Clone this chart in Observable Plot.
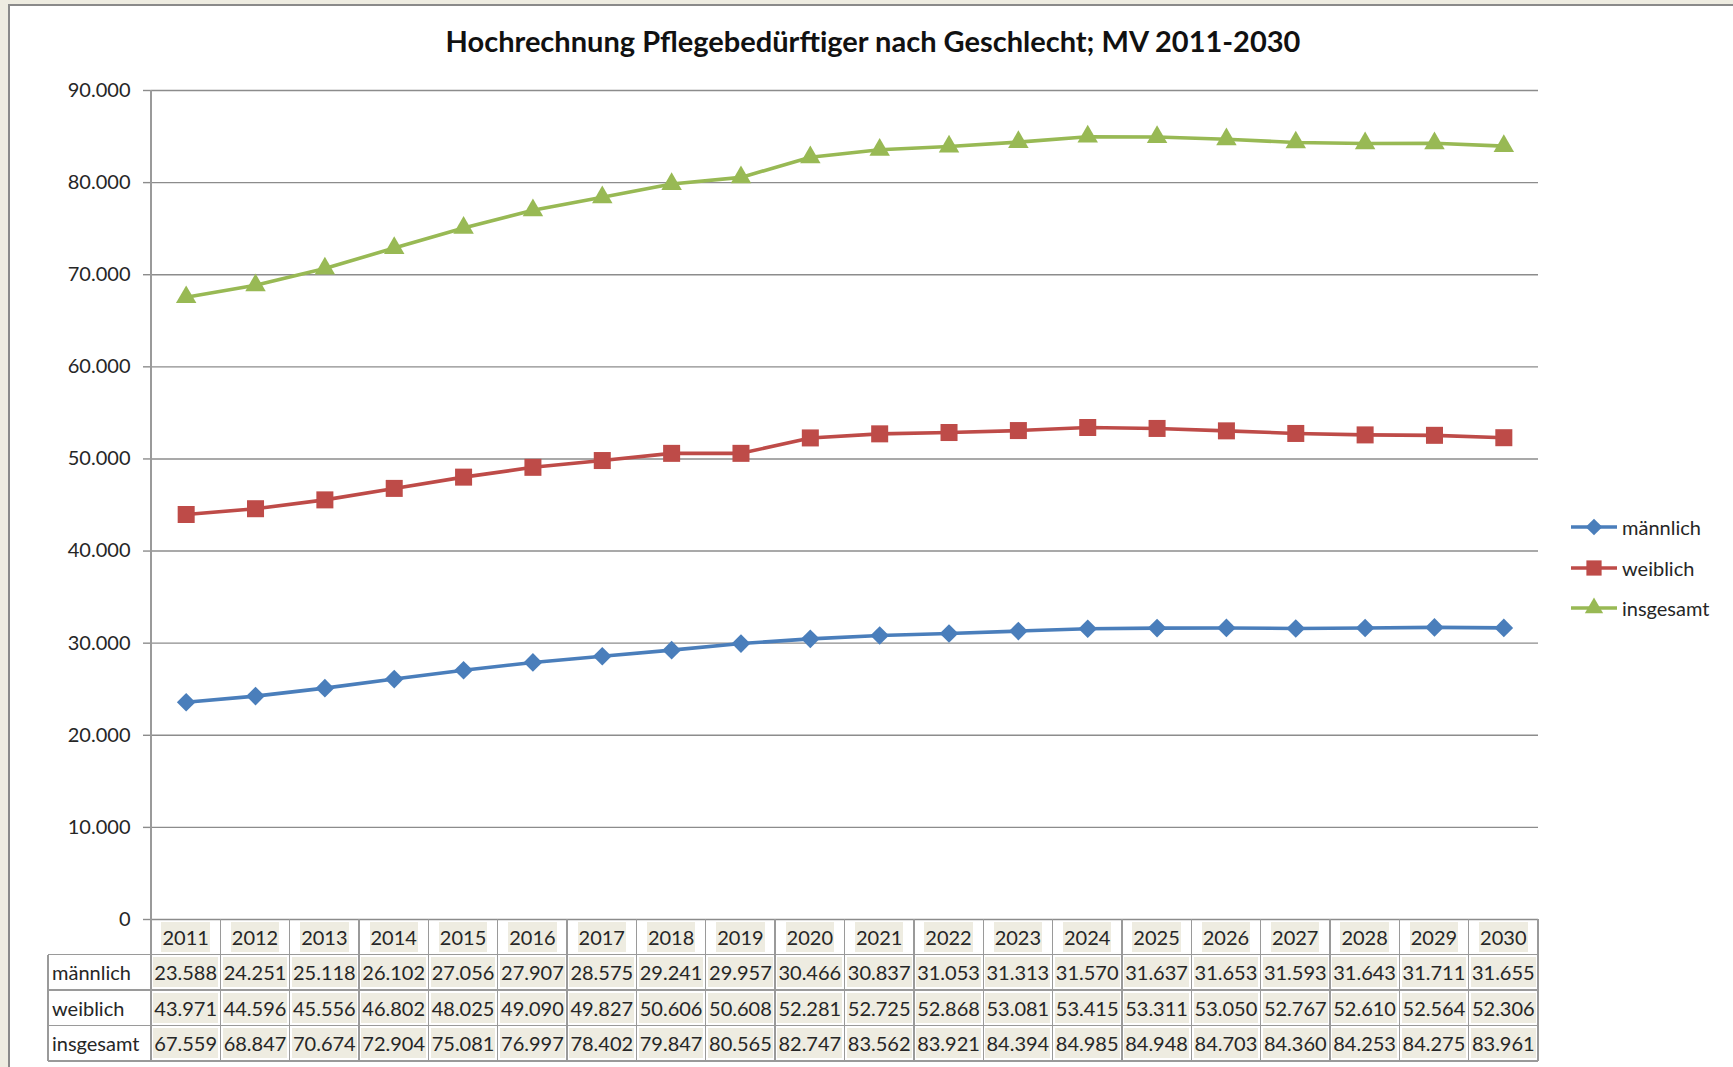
<!DOCTYPE html>
<html><head><meta charset="utf-8">
<script src="https://cdn.jsdelivr.net/npm/d3@7"></script>
<script src="https://cdn.jsdelivr.net/npm/@observablehq/plot@0.6"></script>
<style>
html,body{margin:0;padding:0;width:1733px;height:1067px;overflow:hidden;background:#EEECE1;font-family:Lato,"Liberation Sans",sans-serif;color:#262626;}
#panel{position:absolute;left:8px;top:4px;width:1800px;height:1100px;background:#fff;border-left:2px solid #8a8a8a;border-top:2px solid #8a8a8a;}
#title{position:absolute;left:0;width:1746px;top:23px;text-align:center;font-weight:bold;font-size:29px;color:#111;white-space:nowrap;}
#chart{position:absolute;left:0;top:0;}
.ln{position:absolute;background:#9a9a9a;}
.cell{position:absolute;display:flex;align-items:center;justify-content:center;font-size:20px;}
.cell span{background:#EEECE1;line-height:30px;padding:0 1px;}
.lab{position:absolute;display:flex;align-items:center;font-size:20px;padding-left:4px;box-sizing:border-box;}
.leg{position:absolute;display:flex;align-items:center;font-size:20px;}
</style></head>
<body>
<div id="panel"></div>
<div id="title"></div>
<div id="chart"></div>
<div id="table"></div>
<div id="legend"></div>
<script>
const titleText = "Hochrechnung Pflegebedürftiger nach Geschlecht; MV 2011-2030";
const years = [2011,2012,2013,2014,2015,2016,2017,2018,2019,2020,2021,2022,2023,2024,2025,2026,2027,2028,2029,2030];
const maennlich = [23588,24251,25118,26102,27056,27907,28575,29241,29957,30466,30837,31053,31313,31570,31637,31653,31593,31643,31711,31655];
const weiblich  = [43971,44596,45556,46802,48025,49090,49827,50606,50608,52281,52725,52868,53081,53415,53311,53050,52767,52610,52564,52306];
const insgesamt = [67559,68847,70674,72904,75081,76997,78402,79847,80565,82747,83562,83921,84394,84985,84948,84703,84360,84253,84275,83961];
const seriesNames = ["männlich","weiblich","insgesamt"];
const seriesValues = [maennlich, weiblich, insgesamt];
const seriesColors = ["#4A7EBB","#BE4B48","#98B954"];
const seriesSymbols = ["diamond2","square","triangle"];
const seriesR = [8.4, 9.6, 7.6];
const yTicks = [0,10000,20000,30000,40000,50000,60000,70000,80000,90000];

document.getElementById("title").textContent = titleText;
const de = d3.formatLocale({decimal:",", thousands:".", grouping:[3], currency:["","€"]});
const fmt = de.format(",d");

const rows = seriesNames.map((name, s) => years.map((yr, i) => ({year: yr, value: seriesValues[s][i], series: name})));

const marks = [
  Plot.gridY({ticks: yTicks, stroke: "#8c8c8c", strokeOpacity: 1, strokeWidth: 1.4}),
  Plot.axisY({ticks: yTicks, tickSize: 8, tickPadding: 13, tickFormat: fmt, stroke: "#8c8c8c", strokeWidth: 1.4, fill: "#262626", fontSize: 20, label: null})
];
seriesNames.forEach((name, s) => {
  marks.push(Plot.line(rows[s], {x: "year", y: "value", stroke: seriesColors[s], strokeWidth: 3.6}));
  marks.push(Plot.dot(rows[s], {x: "year", y: "value", symbol: seriesSymbols[s], r: seriesR[s], fill: seriesColors[s], stroke: null}));
});

const chart = Plot.plot({
  width: 1733, height: 940,
  marginLeft: 151, marginRight: 195, marginTop: 90, marginBottom: 21,
  style: {fontFamily: "Lato, 'Liberation Sans', sans-serif", background: "transparent", color: "#262626", overflow: "visible"},
  x: {type: "point", domain: years, padding: 0.5, round: false, axis: null},
  y: {domain: [0, 90000], axis: null},
  marks
});
document.getElementById("chart").appendChild(chart);

// table aligned to the chart's x and y scales
const xs = chart.scale("x"), ys = chart.scale("y");
const step = (xs.range[1] - xs.range[0]) / years.length;
const x0 = xs.range[0], x1 = xs.range[1];
const top0 = ys.apply(0);
const rowH = 35.5;
const labLeft = 48;
const tbl = document.getElementById("table");
function line(l, t, w, h) {
  const d = document.createElement("div");
  d.className = "ln";
  Object.assign(d.style, {left: l + "px", top: t + "px", width: w + "px", height: h + "px"});
  tbl.appendChild(d);
}
// vertical axis line
line(x0 - 0.7, ys.apply(90000), 1.4, top0 - ys.apply(90000));
// column borders
for (let i = 0; i <= years.length; i++) line(x0 + i * step - 0.7, top0, 1.4, rowH * 4);
line(labLeft - 0.7, top0 + rowH, 1.4, rowH * 3);
for (let r = 1; r <= 4; r++) line(labLeft, top0 + r * rowH - 0.7, x1 - labLeft, 1.4);

function cell(text, l, t, w, cls, hl) {
  const d = document.createElement("div");
  d.className = cls;
  Object.assign(d.style, {left: l + "px", top: t + "px", width: w + "px", height: rowH + "px"});
  if (hl) { const sp = document.createElement("span"); sp.textContent = text; d.appendChild(sp); }
  else d.textContent = text;
  tbl.appendChild(d);
}
years.forEach((yr, i) => {
  const cx = xs.apply(yr);
  cell(String(yr), cx - step / 2, top0, step, "cell", true);
  seriesValues.forEach((vals, s) => cell(fmt(vals[i]), cx - step / 2, top0 + (s + 1) * rowH, step, "cell", true));
});
seriesNames.forEach((name, s) => cell(name, labLeft, top0 + (s + 1) * rowH, x0 - labLeft, "lab", false));

// legend
const leg = document.getElementById("legend");
const legY = [527, 568, 608];
seriesNames.forEach((name, s) => {
  const d = document.createElement("div");
  d.className = "leg";
  Object.assign(d.style, {left: "1571px", top: (legY[s] - 15) + "px", height: "30px"});
  const sym = d3.create("svg").attr("width", 50).attr("height", 30);
  sym.append("line").attr("x1", 0).attr("x2", 46).attr("y1", 15).attr("y2", 15).attr("stroke", seriesColors[s]).attr("stroke-width", 3.6);
  const sz = Math.PI * seriesR[s] * seriesR[s] * 0.8;
  const symType = s === 0 ? d3.symbolDiamond2 : s === 1 ? d3.symbolSquare : d3.symbolTriangle;
  sym.append("path").attr("d", d3.symbol(symType, sz)()).attr("transform", "translate(23,15)").attr("fill", seriesColors[s]);
  d.appendChild(sym.node());
  const t = document.createElement("span");
  t.textContent = name;
  t.style.marginLeft = "1px";
  d.appendChild(t);
  leg.appendChild(d);
});
</script>
</body></html>
